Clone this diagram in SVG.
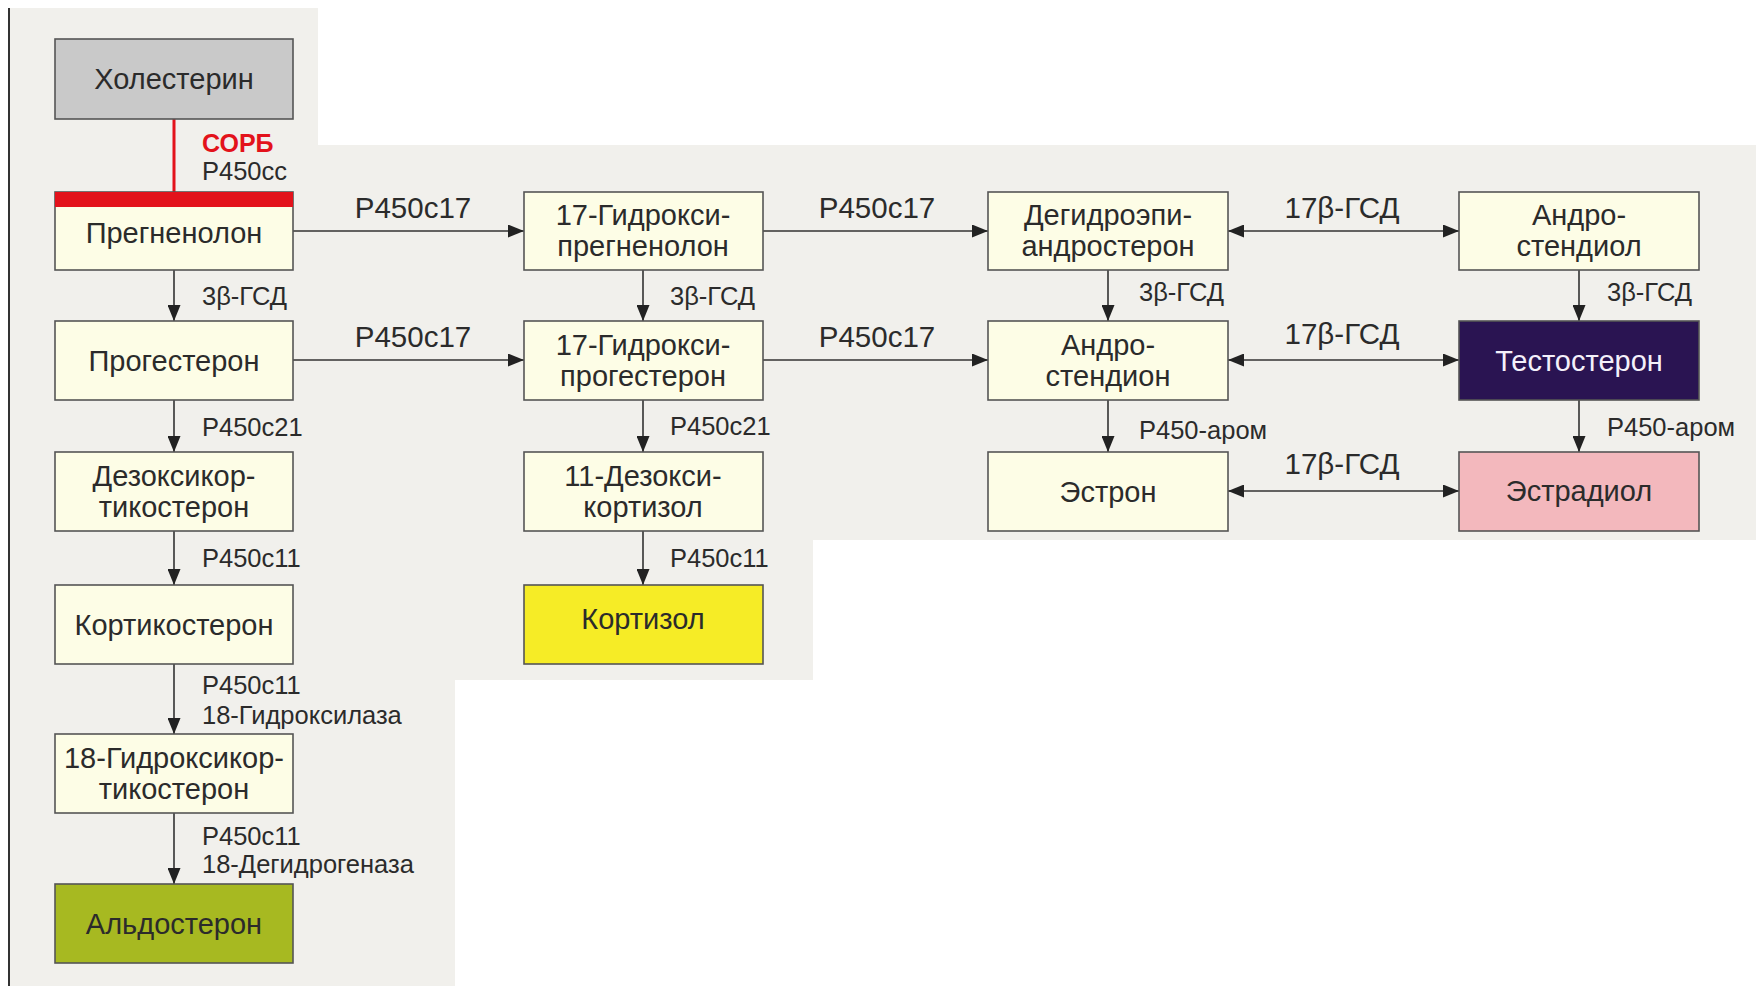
<svg xmlns="http://www.w3.org/2000/svg" width="1756" height="986" viewBox="0 0 1756 986">
<defs>
<style>
.bg{fill:#f1f0ec}
.box{fill:#fdfde6;stroke:#555;stroke-width:1.6}
.nt{font-family:"Liberation Sans",Arial,sans-serif;font-size:29px;fill:#2b2b2b;text-anchor:middle}
.lb{font-family:"Liberation Sans",Arial,sans-serif;font-size:25.5px;fill:#2b2b2b}
.lbb{font-family:"Liberation Sans",Arial,sans-serif;font-size:29.5px;fill:#2b2b2b;text-anchor:middle}
.ln{stroke:#333;stroke-width:1.6;fill:none}
</style>
<marker id="ah" viewBox="0 0 16 13" refX="16" refY="6.5" markerWidth="16" markerHeight="13" markerUnits="userSpaceOnUse" orient="auto-start-reverse">
<path d="M0,0 L16,6.5 L0,13 Z" fill="#222"/>
</marker>
</defs>
<rect width="1756" height="986" fill="#ffffff"/>
<path class="bg" d="M10,8 H318 V145 H1756 V540 H813 V680 H455 V986 H10 Z"/>
<line x1="9" y1="8" x2="9" y2="986" stroke="#333" stroke-width="2"/>

<g id="connectors">
<line x1="174" y1="119" x2="174" y2="192" stroke="#e3121b" stroke-width="3"/>
<line class="ln" x1="174" y1="270" x2="174" y2="321" marker-end="url(#ah)"/>
<line class="ln" x1="174" y1="400" x2="174" y2="452" marker-end="url(#ah)"/>
<line class="ln" x1="174" y1="531" x2="174" y2="585" marker-end="url(#ah)"/>
<line class="ln" x1="174" y1="664" x2="174" y2="734" marker-end="url(#ah)"/>
<line class="ln" x1="174" y1="813" x2="174" y2="884" marker-end="url(#ah)"/>
<line class="ln" x1="643" y1="270" x2="643" y2="321" marker-end="url(#ah)"/>
<line class="ln" x1="643" y1="400" x2="643" y2="452" marker-end="url(#ah)"/>
<line class="ln" x1="643" y1="531" x2="643" y2="585" marker-end="url(#ah)"/>
<line class="ln" x1="1108" y1="270" x2="1108" y2="321" marker-end="url(#ah)"/>
<line class="ln" x1="1108" y1="400" x2="1108" y2="452" marker-end="url(#ah)"/>
<line class="ln" x1="1579" y1="270" x2="1579" y2="321" marker-end="url(#ah)"/>
<line class="ln" x1="1579" y1="400" x2="1579" y2="452" marker-end="url(#ah)"/>
<line class="ln" x1="293" y1="231" x2="524" y2="231" marker-end="url(#ah)"/>
<line class="ln" x1="293" y1="360" x2="524" y2="360" marker-end="url(#ah)"/>
<line class="ln" x1="763" y1="231" x2="988" y2="231" marker-end="url(#ah)"/>
<line class="ln" x1="763" y1="360" x2="988" y2="360" marker-end="url(#ah)"/>
<line class="ln" x1="1228" y1="231" x2="1459" y2="231" marker-start="url(#ah)" marker-end="url(#ah)"/>
<line class="ln" x1="1228" y1="360" x2="1459" y2="360" marker-start="url(#ah)" marker-end="url(#ah)"/>
<line class="ln" x1="1228" y1="491" x2="1459" y2="491" marker-start="url(#ah)" marker-end="url(#ah)"/>
</g>

<g id="labels">
<text x="202" y="152" font-family="Liberation Sans,Arial,sans-serif" font-size="25" font-weight="bold" fill="#e3121b">СОРБ</text>
<text class="lb" x="202" y="180">P450cc</text>
<text class="lb" x="202" y="305">3β-ГСД</text>
<text class="lb" x="202" y="436">P450c21</text>
<text class="lb" x="202" y="567">P450c11</text>
<text class="lb" x="202" y="694">P450c11</text>
<text class="lb" x="202" y="724">18-Гидроксилаза</text>
<text class="lb" x="202" y="845">P450c11</text>
<text class="lb" x="202" y="873">18-Дегидрогеназа</text>
<text class="lb" x="670" y="305">3β-ГСД</text>
<text class="lb" x="670" y="435">P450c21</text>
<text class="lb" x="670" y="567">P450c11</text>
<text class="lb" x="1139" y="301">3β-ГСД</text>
<text class="lb" x="1139" y="439">P450-аром</text>
<text class="lb" x="1607" y="301">3β-ГСД</text>
<text class="lb" x="1607" y="436">P450-аром</text>
<text class="lbb" x="413" y="218">P450c17</text>
<text class="lbb" x="413" y="347">P450c17</text>
<text class="lbb" x="877" y="218">P450c17</text>
<text class="lbb" x="877" y="347">P450c17</text>
<text class="lbb" x="1342" y="218">17β-ГСД</text>
<text class="lbb" x="1342" y="344">17β-ГСД</text>
<text class="lbb" x="1342" y="474">17β-ГСД</text>
</g>

<g id="n-cholesterol"><rect x="55" y="39" width="238" height="80" fill="#c9c9c9" stroke="#555" stroke-width="1.6"/><text class="nt" x="174" y="89">Холестерин</text></g>
<g id="n-pregnenolone"><rect class="box" x="55" y="192" width="238" height="78"/><rect x="55" y="192" width="238" height="15" fill="#e3121b"/><text class="nt" x="174" y="243">Прегненолон</text></g>
<g id="n-progesterone"><rect class="box" x="55" y="321" width="238" height="79"/><text class="nt" x="174" y="371">Прогестерон</text></g>
<g id="n-deoxycorticosterone"><rect class="box" x="55" y="452" width="238" height="79"/><text class="nt" x="174" y="486">Дезоксикор-</text><text class="nt" x="174" y="517">тикостерон</text></g>
<g id="n-corticosterone"><rect class="box" x="55" y="585" width="238" height="79"/><text class="nt" x="174" y="635">Кортикостерон</text></g>
<g id="n-18oh-corticosterone"><rect class="box" x="55" y="734" width="238" height="79"/><text class="nt" x="174" y="768">18-Гидроксикор-</text><text class="nt" x="174" y="799">тикостерон</text></g>
<g id="n-aldosterone"><rect x="55" y="884" width="238" height="79" fill="#a7b921" stroke="#555" stroke-width="1.6"/><text class="nt" x="174" y="934">Альдостерон</text></g>

<g id="n-17oh-pregnenolone"><rect class="box" x="524" y="192" width="239" height="78"/><text class="nt" x="643" y="225">17-Гидрокси-</text><text class="nt" x="643" y="256">прегненолон</text></g>
<g id="n-17oh-progesterone"><rect class="box" x="524" y="321" width="239" height="79"/><text class="nt" x="643" y="355">17-Гидрокси-</text><text class="nt" x="643" y="386">прогестерон</text></g>
<g id="n-11-deoxycortisol"><rect class="box" x="524" y="452" width="239" height="79"/><text class="nt" x="643" y="486">11-Дезокси-</text><text class="nt" x="643" y="517">кортизол</text></g>
<g id="n-cortisol"><rect x="524" y="585" width="239" height="79" fill="#f6ec26" stroke="#555" stroke-width="1.6"/><text class="nt" x="643" y="629">Кортизол</text></g>

<g id="n-dhea"><rect class="box" x="988" y="192" width="240" height="78"/><text class="nt" x="1108" y="225">Дегидроэпи-</text><text class="nt" x="1108" y="256">андростерон</text></g>
<g id="n-androstenedione"><rect class="box" x="988" y="321" width="240" height="79"/><text class="nt" x="1108" y="355">Андро-</text><text class="nt" x="1108" y="386">стендион</text></g>
<g id="n-estrone"><rect class="box" x="988" y="452" width="240" height="79"/><text class="nt" x="1108" y="502">Эстрон</text></g>

<g id="n-androstenediol"><rect class="box" x="1459" y="192" width="240" height="78"/><text class="nt" x="1579" y="225">Андро-</text><text class="nt" x="1579" y="256">стендиол</text></g>
<g id="n-testosterone"><rect x="1459" y="321" width="240" height="79" fill="#2a1452" stroke="#555" stroke-width="1.6"/><text class="nt" x="1579" y="371" style="fill:#f4f0fa">Тестостерон</text></g>
<g id="n-estradiol"><rect x="1459" y="452" width="240" height="79" fill="#f3b8bd" stroke="#555" stroke-width="1.6"/><text class="nt" x="1579" y="501">Эстрадиол</text></g>
</svg>
